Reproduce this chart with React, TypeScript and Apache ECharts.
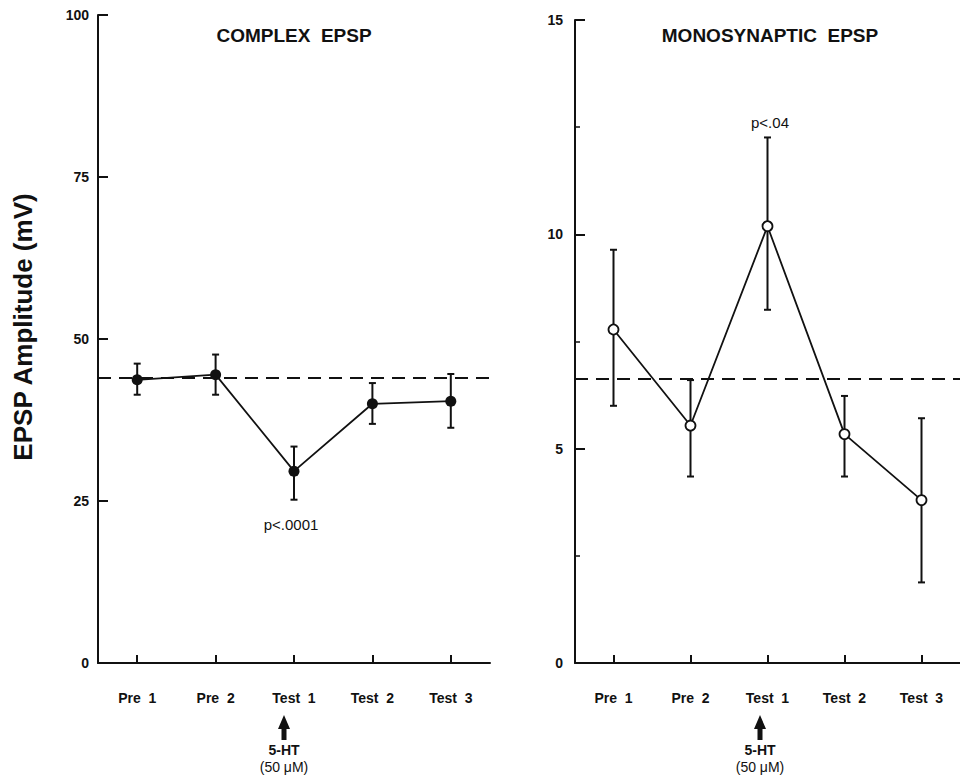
import React, { useEffect, useRef } from "react";
import * as echarts from "echarts";

// Trial phases along the x axis
const categories = ["Pre 1", "Pre 2", "Test 1", "Test 2", "Test 3"];

// Complex EPSP (mV): means and error-bar bounds
const complexMean = [43.7, 44.5, 29.6, 40.0, 40.4];
const complexLow = [41.4, 41.4, 25.2, 36.9, 36.3];
const complexHigh = [46.2, 47.6, 33.4, 43.2, 44.6];
const complexBaseline = 44.0;

// Monosynaptic EPSP (mV): means and error-bar bounds
const monoMean = [7.78, 5.54, 10.19, 5.34, 3.8];
const monoLow = [6.0, 4.35, 8.24, 4.35, 1.88];
const monoHigh = [9.64, 6.6, 12.26, 6.23, 5.71];
const monoBaseline = 6.64;

// Axis ranges and tick steps
const complexTicks = { min: 0, max: 100, interval: 25 };
const monoTicks = { min: 0, max: 15, interval: 5 };

const FONT = "Liberation Sans, Arial, Helvetica, sans-serif";
const BLACK = "#111";

function errorBarItem(params: any, api: any) {
  const x = api.value(0);
  const lo = api.coord([x, api.value(1)]);
  const hi = api.coord([x, api.value(2)]);
  const hw = 3.5;
  const style = { stroke: BLACK, lineWidth: 2 };
  return {
    type: "group",
    children: [
      { type: "line", shape: { x1: lo[0], y1: lo[1], x2: hi[0], y2: hi[1] }, style },
      { type: "line", shape: { x1: hi[0] - hw, y1: hi[1], x2: hi[0] + hw, y2: hi[1] }, style },
      { type: "line", shape: { x1: lo[0] - hw, y1: lo[1], x2: lo[0] + hw, y2: lo[1] }, style },
    ],
  };
}

function arrow(cx: number) {
  return {
    type: "polygon",
    shape: {
      points: [
        [cx, 715],
        [cx + 6, 729],
        [cx + 2.5, 729],
        [cx + 2.5, 740],
        [cx - 2.5, 740],
        [cx - 2.5, 729],
        [cx - 6, 729],
      ],
    },
    style: { fill: BLACK },
  };
}

function text(x: number, y: number, t: string, size: number, weight: string, rotation = 0) {
  return {
    type: "text",
    x,
    y,
    rotation,
    style: {
      text: t,
      fill: BLACK,
      font: `${weight} ${size}px ${FONT}`,
      textAlign: "center",
      textVerticalAlign: "middle",
    },
  };
}

function xAxisFor(gridIndex: number) {
  return {
    type: "category",
    gridIndex,
    data: categories,
    boundaryGap: true,
    axisLine: { lineStyle: { color: BLACK, width: 2 } },
    axisTick: { show: true, alignWithLabel: true, inside: true, length: 8, lineStyle: { color: BLACK, width: 2 } },
    axisLabel: {
      margin: 28,
      color: BLACK,
      fontFamily: FONT,
      fontWeight: "bold",
      fontSize: 14,
      formatter: (v: string) => v.replace(" ", "  "),
    },
    splitLine: { show: false },
  };
}

function yAxisFor(gridIndex: number, ticks: any, margin: number, minor: boolean) {
  return {
    type: "value",
    gridIndex,
    ...ticks,
    axisLine: { show: true, lineStyle: { color: BLACK, width: 2 } },
    axisTick: { show: true, inside: true, length: 10, lineStyle: { color: BLACK, width: 2 } },
    minorTick: { show: minor, splitNumber: 2, length: 5, lineStyle: { color: BLACK, width: 1.5 } },
    axisLabel: { margin, color: BLACK, fontFamily: FONT, fontWeight: "bold", fontSize: 14 },
    splitLine: { show: false },
  };
}

export default function App() {
  const ref = useRef<HTMLDivElement>(null);

  useEffect(() => {
    if (!ref.current) return;
    const chart = echarts.init(ref.current, null, { renderer: "svg" });

    const option: any = {
      animation: false,
      backgroundColor: "#fff",
      grid: [
        { left: 98, top: 15, width: 392, height: 648 },
        { left: 575, top: 20, width: 393.5, height: 643 },
      ],
      xAxis: [xAxisFor(0), xAxisFor(1)],
      yAxis: [yAxisFor(0, complexTicks, 9, false), yAxisFor(1, monoTicks, 12, true)],
      series: [
        {
          type: "custom",
          xAxisIndex: 0,
          yAxisIndex: 0,
          z: 1,
          renderItem: errorBarItem,
          encode: { x: 0, y: [1, 2] },
          data: categories.map((_, i) => [i, complexLow[i], complexHigh[i]]),
        },
        {
          type: "line",
          xAxisIndex: 0,
          yAxisIndex: 0,
          z: 3,
          data: complexMean,
          symbol: "circle",
          symbolSize: 11,
          itemStyle: { color: BLACK },
          lineStyle: { color: BLACK, width: 1.8 },
          markLine: {
            silent: true,
            symbol: "none",
            label: { show: false },
            lineStyle: { color: BLACK, type: [13, 8], width: 2 },
            data: [{ yAxis: complexBaseline }],
          },
        },
        {
          type: "custom",
          xAxisIndex: 1,
          yAxisIndex: 1,
          z: 1,
          renderItem: errorBarItem,
          encode: { x: 0, y: [1, 2] },
          data: categories.map((_, i) => [i, monoLow[i], monoHigh[i]]),
        },
        {
          type: "line",
          xAxisIndex: 1,
          yAxisIndex: 1,
          z: 3,
          data: monoMean,
          symbol: "circle",
          symbolSize: 10,
          itemStyle: { color: "#fff", borderColor: BLACK, borderWidth: 1.8 },
          lineStyle: { color: BLACK, width: 1.8 },
          markLine: {
            silent: true,
            symbol: "none",
            label: { show: false },
            lineStyle: { color: BLACK, type: [13, 8], width: 2 },
            data: [{ yAxis: monoBaseline }],
          },
        },
      ],
      graphic: [
        text(23, 327, "EPSP Amplitude (mV)", 26, "bold", Math.PI / 2),
        text(294, 35, "COMPLEX  EPSP", 19, "bold"),
        text(770, 35, "MONOSYNAPTIC  EPSP", 19, "bold"),
        text(291, 524, "p<.0001", 15, "normal"),
        text(770, 122, "p<.04", 15, "normal"),
        arrow(284),
        text(284, 750, "5-HT", 14, "bold"),
        text(284, 767, "(50 μM)", 14, "normal"),
        arrow(760),
        text(760, 750, "5-HT", 14, "bold"),
        text(760, 767, "(50 μM)", 14, "normal"),
      ],
    };

    chart.setOption(option);
    return () => chart.dispose();
  }, []);

  return (
    <div
      ref={ref}
      style={{ position: "fixed", left: 0, top: 0, width: 960, height: 784, background: "#fff" }}
    />
  );
}
